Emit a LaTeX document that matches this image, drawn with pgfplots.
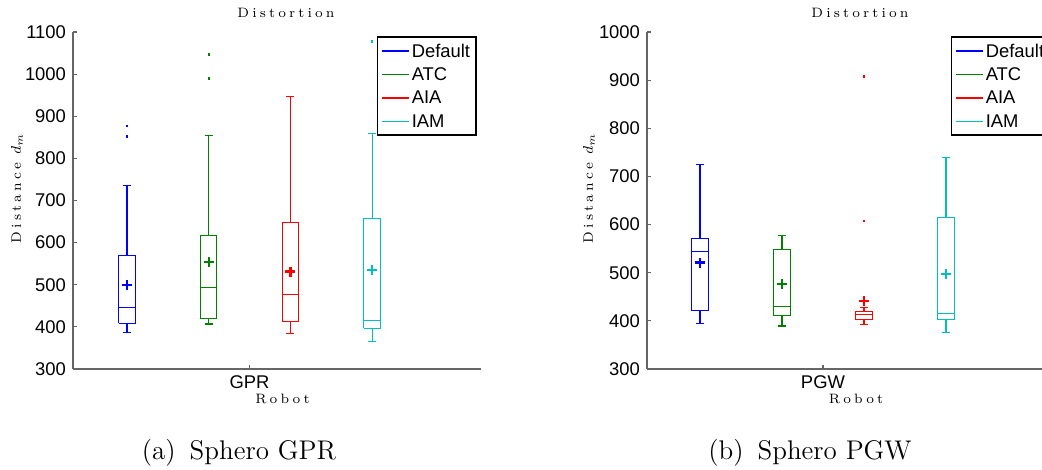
\documentclass[border=0pt]{standalone}
\usepackage{pgfplots}
\pgfplotsset{compat=1.18}
\usepackage{fontspec}
\newfontfamily\arialf{Liberation Sans}
\newfontfamily\spacedf[LetterSpace=23]{Latin Modern Roman}
\newcommand\tickfont{\arialf\fontsize{9.2}{10}\selectfont}
\newcommand\labfont{\spacedf\fontsize{6.8}{8}\selectfont}
\definecolor{mblue}{rgb}{0,0,1}
\definecolor{mgreen}{rgb}{0,0.5,0}
\definecolor{mred}{rgb}{1,0,0}
\definecolor{mcyan}{rgb}{0,0.75,0.75}
\pgfplotsset{
  bx/.style={
    scale only axis, width=204pt, height=168.5pt,
    axis x line*=bottom, axis y line*=left,
    axis line style={-, draw=black!60, line width=0.8pt},
    major tick style={draw=black!60, line width=0.6pt},
    major tick length=2pt, tick align=inside,
    minor tick num=0,
    xtick={2.5},
    ytick distance=100,
    /pgf/number format/assume math mode=true,
    /pgf/number format/1000 sep={},
    tick label style={font=\tickfont},
    legend style={at={(1,1)}, anchor=north east, xshift=-2pt, yshift=-2pt,
      draw=black, line width=0.9pt, fill=white, font=\tickfont,
      inner xsep=2pt, inner ysep=2.5pt,
      nodes={inner sep=1pt, text height=6.6pt, text depth=0.5pt}, row sep=2.6pt},
    legend cell align=left,
    clip=false,
    unbounded coords=jump,
  },
  mb/.style={only marks, mark=+, mark size=2.5pt, line width=1.1pt},
  mo/.style={only marks, mark=square*, mark size=0.35pt},
  bp/.style={line width=0.55pt, mark=none},
  lg/.style={legend image code/.code={\draw[draw=#1, line width=0.7pt] (0pt,0pt) -- (13.5pt,0pt);}},
}
\begin{document}
\begin{tikzpicture}
\begin{scope}
\clip (0,0) rectangle (521pt,235pt);
% ---------------- left panel
\begin{axis}[bx, at={(36.5pt,50.5pt)}, anchor=south west,
  xmin=0.339, xmax=5.333, ymin=300, ymax=1100, xticklabels={GPR}]
\addlegendimage{lg=mblue}\addlegendentry{Default}
\addlegendimage{lg=mgreen}\addlegendentry{ATC}
\addlegendimage{lg=mred}\addlegendentry{AIA}
\addlegendimage{lg=mcyan}\addlegendentry{IAM}
% Default: lw 387, lq 408.5, med 446.5, uq 568.5, uw 735.6
\addplot[mblue, bp] coordinates {(0.9,408.5) (1.1,408.5) (1.1,568.5) (0.9,568.5) (0.9,408.5) (nan,nan) (0.9,446.5) (1.1,446.5) (nan,nan) (1,568.5) (1,735.6) (nan,nan) (0.95,735.6) (1.05,735.6) (nan,nan) (1,408.5) (1,387) (nan,nan) (0.95,387) (1.05,387)};
% ATC: 406.9, 419.6, 493.3, 617.6, 854.5
\addplot[mgreen, bp] coordinates {(1.9,419.6) (2.1,419.6) (2.1,617.6) (1.9,617.6) (1.9,419.6) (nan,nan) (1.9,493.3) (2.1,493.3) (nan,nan) (2,617.6) (2,854.5) (nan,nan) (1.95,854.5) (2.05,854.5) (nan,nan) (2,419.6) (2,406.9) (nan,nan) (1.95,406.9) (2.05,406.9)};
% AIA: 384.8, 411.7, 477.4, 646.9, 947.1
\addplot[mred, bp] coordinates {(2.9,411.7) (3.1,411.7) (3.1,646.9) (2.9,646.9) (2.9,411.7) (nan,nan) (2.9,477.4) (3.1,477.4) (nan,nan) (3,646.9) (3,947.1) (nan,nan) (2.95,947.1) (3.05,947.1) (nan,nan) (3,411.7) (3,384.8) (nan,nan) (2.95,384.8) (3.05,384.8)};
% IAM: 365.7, 396.6, 414.1, 656.4, 859.2
\addplot[mcyan, bp] coordinates {(3.9,396.6) (4.1,396.6) (4.1,656.4) (3.9,656.4) (3.9,396.6) (nan,nan) (3.9,414.1) (4.1,414.1) (nan,nan) (4,656.4) (4,859.2) (nan,nan) (3.95,859.2) (4.05,859.2) (nan,nan) (4,396.6) (4,365.7) (nan,nan) (3.95,365.7) (4.05,365.7)};
\addplot[mblue, mb] coordinates {(1,498.8)};
\addplot[mgreen, mb] coordinates {(2,554.3)};
\addplot[mred, mb] coordinates {(3,531.3)};
\addplot[mcyan, mb] coordinates {(4,534.5)};
\addplot[mblue, mo] coordinates {(1,877.4) (1,852.1)};
\addplot[mgreen, mo] coordinates {(2,1046.9) (2,989.9)};
\addplot[mcyan, mo] coordinates {(4,1077.8)};
\end{axis}
% ---------------- right panel
\begin{axis}[bx, at={(323.5pt,50.5pt)}, anchor=south west,
  xmin=0.354, xmax=5.33, ymin=300, ymax=1000, xticklabels={PGW}]
\addlegendimage{lg=mblue}\addlegendentry{Default}
\addlegendimage{lg=mgreen}\addlegendentry{ATC}
\addlegendimage{lg=mred}\addlegendentry{AIA}
\addlegendimage{lg=mcyan}\addlegendentry{IAM}
% Default: 394.9, 420.6, 544.6, 570.3, 724.8
\addplot[mblue, bp] coordinates {(0.9,420.6) (1.1,420.6) (1.1,570.3) (0.9,570.3) (0.9,420.6) (nan,nan) (0.9,544.6) (1.1,544.6) (nan,nan) (1,570.3) (1,724.8) (nan,nan) (0.95,724.8) (1.05,724.8) (nan,nan) (1,420.6) (1,394.9) (nan,nan) (0.95,394.9) (1.05,394.9)};
% ATC: 389.4, 410.9, 430.3, 548.8, 576.5
\addplot[mgreen, bp] coordinates {(1.9,410.9) (2.1,410.9) (2.1,548.8) (1.9,548.8) (1.9,410.9) (nan,nan) (1.9,430.3) (2.1,430.3) (nan,nan) (2,548.8) (2,576.5) (nan,nan) (1.95,576.5) (2.05,576.5) (nan,nan) (2,410.9) (2,389.4) (nan,nan) (1.95,389.4) (2.05,389.4)};
% AIA: 391.5, 402.5, 412.9, 419.1, 428.2
\addplot[mred, bp] coordinates {(2.9,402.5) (3.1,402.5) (3.1,419.1) (2.9,419.1) (2.9,402.5) (nan,nan) (2.9,412.9) (3.1,412.9) (nan,nan) (3,419.1) (3,428.2) (nan,nan) (2.95,428.2) (3.05,428.2) (nan,nan) (3,402.5) (3,391.5) (nan,nan) (2.95,391.5) (3.05,391.5)};
% IAM: 376.2, 401.9, 414.4, 614, 740.1
\addplot[mcyan, bp] coordinates {(3.9,401.9) (4.1,401.9) (4.1,614) (3.9,614) (3.9,401.9) (nan,nan) (3.9,414.4) (4.1,414.4) (nan,nan) (4,614) (4,740.1) (nan,nan) (3.95,740.1) (4.05,740.1) (nan,nan) (4,401.9) (4,376.2) (nan,nan) (3.95,376.2) (4.05,376.2)};
\addplot[mblue, mb] coordinates {(1,521.1)};
\addplot[mgreen, mb] coordinates {(2,476.7)};
\addplot[mred, mb] coordinates {(3,441.4)};
\addplot[mcyan, mb] coordinates {(4,496.8)};
\addplot[mred, mo] coordinates {(3,907.8) (3,607.0)};
\end{axis}
% ---------------- texts
\node[font=\labfont, anchor=base] at (143pt,226pt) {Distortion};
\node[font=\labfont, anchor=base] at (430pt,226pt) {Distortion};
\node[font=\labfont, rotate=90] at (8.5pt,141pt) {Distance $d_m$};
\node[font=\labfont, rotate=90] at (294.5pt,141pt) {Distance $d_m$};
\node[font=\labfont, anchor=base] at (141.25pt,33pt) {Robot};
\node[font=\labfont, anchor=base] at (428pt,33pt) {Robot};
\node[font=\fontsize{13.5}{16}\selectfont, anchor=base] at (119.5pt,5pt) {(a)\hspace{7pt}Sphero GPR};
\node[font=\fontsize{13.5}{16}\selectfont, anchor=base] at (405pt,5pt) {(b)\hspace{7pt}Sphero PGW};
\end{scope}
\pgfresetboundingbox
\useasboundingbox (0,0) rectangle (521pt,235pt);
\end{tikzpicture}
\end{document}
